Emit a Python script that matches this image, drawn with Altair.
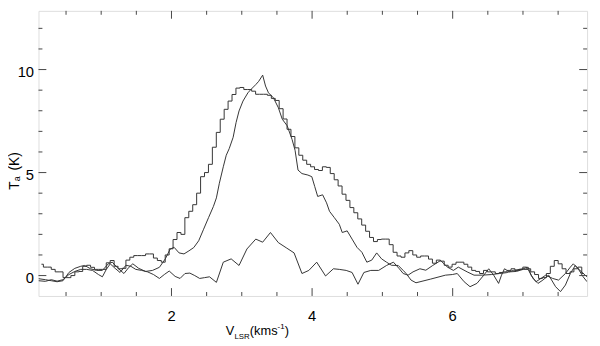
import altair as alt
import pandas as pd

# ---------------- data ----------------
# Stepped (histogram) spectrum: channel grid start / width and antenna temperatures
S_V0 = 0.150
S_DV = 0.0559
S_TA = [0.55, 0.41, 0.41, 0.3, 0.18, 0.18, -0.1, -0.1, 0.0, 0.18,
        0.2, 0.45, 0.5, 0.4, 0.3, 0.3, 0.3, 0.62, 0.73, 0.45,
        0.33, 0.35, 0.75, 0.89, 0.97, 0.97, 0.97, 1.05, 1.05, 0.85,
        0.73, 0.65, 1.0, 1.3, 1.75, 2.09, 2.0, 2.81, 3.12, 3.44,
        4.0, 4.8, 5.0, 5.4, 6.23, 6.95, 7.59, 8.07, 8.47, 8.79,
        9.1, 9.13, 9.03, 9.03, 8.95, 8.8, 8.8, 8.8, 8.75, 8.6,
        8.5, 8.1, 7.6, 7.1, 6.75, 6.2, 5.84, 5.6, 5.4, 5.28,
        5.15, 5.1, 5.28, 5.25, 4.95, 4.65, 4.35, 3.95, 3.65, 3.3,
        3.05, 2.75, 2.45, 2.15, 1.85, 1.65, 1.75, 1.77, 1.77, 1.5,
        1.13, 0.95, 0.89, 1.1, 1.21, 1.0, 0.89, 0.95, 0.95, 0.8,
        0.6, 0.75, 0.7, 0.5, 0.41, 0.55, 0.65, 0.65, 0.55, 0.41,
        0.25, 0.2, 0.1, 0.25, 0.18, 0.18, 0.1, 0.15, 0.18, 0.25,
        0.33, 0.25, 0.3, 0.41, 0.33, 0.18, 0.05, -0.14, -0.1, 0.1,
        0.45, 0.73, 0.57, 0.33, 0.1, 0.18, 0.33, 0.41, 0.1]

# Smooth spectrum (peak ~9.7 K)
M_V = [0.108, 0.206, 0.290, 0.373, 0.457, 0.541, 0.625, 0.709, 0.765, 0.849,
       0.933, 1.017, 1.101, 1.157, 1.241, 1.324, 1.394, 1.450, 1.534, 1.632,
       1.730, 1.828, 1.912, 1.982, 2.038, 2.108, 2.178, 2.248, 2.317, 2.387,
       2.457, 2.527, 2.597, 2.639, 2.681, 2.737, 2.779, 2.821, 2.877, 2.919,
       2.961, 3.017, 3.087, 3.129, 3.199, 3.241, 3.297, 3.338, 3.380, 3.450,
       3.520, 3.576, 3.646, 3.716, 3.758, 3.800, 3.856, 3.940, 3.996, 4.038,
       4.080, 4.150, 4.206, 4.248, 4.317, 4.387, 4.429, 4.499, 4.569, 4.639,
       4.709, 4.779, 4.849, 4.919, 4.989, 5.059, 5.129, 5.226, 5.296, 5.338,
       5.408, 5.478, 5.688, 5.897, 5.995, 6.065, 6.163, 6.247, 6.345, 6.443,
       6.513, 6.583, 6.653, 6.695, 6.737, 6.807, 6.905, 7.003, 7.073, 7.143,
       7.213, 7.283, 7.366, 7.464, 7.534, 7.604, 7.674, 7.744, 7.786, 7.856, 7.912]
M_TA = [-0.15, -0.2, -0.25, -0.3, -0.25, 0.15, 0.35, 0.45, 0.49, 0.33,
        0.25, 0.25, 0.57, 0.65, 0.35, 0.1, 0.4, 0.57, 0.35, 0.2,
        0.25, 0.4, 0.81, 1.29, 1.37, 1.1, 1.05, 1.2, 1.36, 1.69,
        2.25, 2.81, 3.36, 3.77, 4.48, 5.28, 5.84, 6.16, 6.71, 7.43,
        7.99, 8.47, 8.87, 9.03, 9.27, 9.43, 9.73, 9.2, 8.87, 8.63,
        8.15, 7.59, 7.27, 6.6, 6.08, 5.12, 4.95, 4.88, 4.8, 4.32,
        3.84, 3.92, 3.53, 3.12, 2.81, 2.49, 2.09, 2.17, 1.77, 1.37,
        1.13, 0.65, 0.75, 1.1, 0.81, 0.65, 0.5, 0.49, 0.25, 0.1,
        -0.22, -0.35, -0.17, 0.02, 0.05, 0.1, -0.3, -0.54, -0.38, 0.02,
        0.33, 0.02, -0.38, 0.02, 0.33, 0.18, 0.2, 0.3, 0.3, -0.14,
        -0.38, -0.22, 0.02, -0.54, -0.78, -0.46, 0.1, 0.49, 0.33, -0.06, -0.3]

# Weak spectrum (peak ~2.1 K)
L_V = [0.108, 0.206, 0.290, 0.373, 0.457, 0.541, 0.625, 0.709, 0.793, 0.877,
       0.961, 1.017, 1.073, 1.129, 1.198, 1.268, 1.352, 1.422, 1.492, 1.576,
       1.660, 1.744, 1.828, 1.898, 1.968, 2.052, 2.122, 2.192, 2.261, 2.331,
       2.401, 2.471, 2.541, 2.639, 2.737, 2.849, 2.961, 3.073, 3.199, 3.297,
       3.408, 3.520, 3.632, 3.744, 3.856, 3.954, 4.066, 4.192, 4.303, 4.387,
       4.485, 4.569, 4.653, 4.737, 4.835, 4.947, 5.059, 5.157, 5.241, 5.296,
       5.366, 5.436, 5.534, 5.618, 5.716, 5.828, 5.926, 6.010, 6.080, 6.206,
       6.304, 6.415, 6.555, 6.667, 6.765, 6.863, 7.003, 7.073, 7.115, 7.185,
       7.255, 7.324, 7.422, 7.506, 7.604, 7.674, 7.716, 7.786, 7.884, 7.912]
L_TA = [-0.25, -0.28, -0.2, -0.27, -0.2, 0.05, 0.2, 0.3, 0.3, 0.25,
        0.05, -0.06, 0.3, 0.57, 0.35, 0.15, 0.5, 0.45, 0.3, 0.25,
        0.18, 0.05, -0.14, 0.05, 0.22, -0.04, -0.14, 0.1, 0.12, 0.0,
        -0.14, -0.1, -0.06, -0.33, 0.65, 0.81, 0.49, 1.29, 1.77, 1.62,
        2.09, 1.6, 1.35, 1.1, 0.1, 0.25, 0.65, -0.02, 0.33, 0.3,
        0.25, 0.15, -0.42, 0.15, 0.25, 0.25, 0.49, 0.65, 0.33, 0.1,
        0.02, 0.18, 0.33, 0.26, 0.49, 0.73, 0.41, 0.25, 0.41, 0.18,
        0.02, 0.02, 0.05, 0.1, 0.14, 0.25, 0.33, 0.41, 0.02, -0.3,
        -0.14, 0.02, -0.14, -0.22, 0.1, 0.41, 0.57, 0.33, 0.02, -0.06]

# axis ticks
X_MAJOR = [2, 4, 6]
X_MINOR = [0.5, 1.0, 1.5, 2.5, 3.0, 3.5, 4.5, 5.0, 5.5, 6.5, 7.0, 7.5]
Y_MAJOR = [0, 5, 10]
Y_MINOR = [1, 2, 3, 4, 6, 7, 8, 9, 11, 12]

X_DOMAIN = [0.108, 7.912]
Y_DOMAIN = [-0.99, 12.85]

W, H = 558, 290
FONT = "Liberation Sans"
LINE = "#333333"
FRAME = "#444444"

# ---------------- build ----------------
s_df = pd.DataFrame({"v": [S_V0 + i * S_DV for i in range(len(S_TA))], "ta": S_TA})
m_df = pd.DataFrame({"v": M_V, "ta": M_TA})
l_df = pd.DataFrame({"v": L_V, "ta": L_TA})

xs = alt.Scale(domain=X_DOMAIN, nice=False, zero=False)
ys = alt.Scale(domain=Y_DOMAIN, nice=False, zero=False)


def spectrum(df, **kw):
    return alt.Chart(df).mark_line(color=LINE, strokeWidth=1, clip=True, **kw).encode(
        x=alt.X("v:Q", scale=xs, axis=None),
        y=alt.Y("ta:Q", scale=ys, axis=None),
    )


step = spectrum(s_df, interpolate="step")
smooth = spectrum(m_df)
weak = spectrum(l_df)

xmaj = pd.DataFrame({"v": X_MAJOR})
xmin = pd.DataFrame({"v": X_MINOR})
ymaj = pd.DataFrame({"t": Y_MAJOR})
ymin = pd.DataFrame({"t": Y_MINOR})


def xticks(df, y0, y1):
    return alt.Chart(df).mark_rule(color=FRAME, strokeWidth=1).encode(
        x=alt.X("v:Q", scale=xs, axis=None), y=alt.value(y0), y2=alt.value(y1))


def yticks(df, x0, x1):
    return alt.Chart(df).mark_rule(color=FRAME, strokeWidth=1).encode(
        y=alt.Y("t:Q", scale=ys, axis=None), x=alt.value(x0), x2=alt.value(x1))


ticks = [
    xticks(xmaj, H, H - 8), xticks(xmin, H, H - 4),
    xticks(xmaj, 0, 8), xticks(xmin, 0, 4),
    yticks(ymaj, 0, 8), yticks(ymin, 0, 4),
    yticks(ymaj, W, W - 8), yticks(ymin, W, W - 4),
]

# tick labels drawn as text marks positioned by the scales
xlabels = alt.Chart(xmaj).mark_text(font=FONT, fontSize=15, color="black", align="center",
                                    baseline="alphabetic").encode(
    x=alt.X("v:Q", scale=xs, axis=None), y=alt.value(315.5), text=alt.Text("v:Q", format="d"))
ylabels = alt.Chart(ymaj).mark_text(font=FONT, fontSize=15, color="black", align="right",
                                    baseline="alphabetic", dy=7.3).encode(
    y=alt.Y("t:Q", scale=ys, axis=None), x=alt.value(-4.5), text=alt.Text("t:Q", format="d"))


def label(txt, x, y, size=13, angle=0):
    return alt.Chart(pd.DataFrame({"a": [0]})).mark_text(
        text=txt, font=FONT, fontSize=size, color="black", align="left",
        baseline="alphabetic", angle=angle).encode(x=alt.value(x), y=alt.value(y))


titles = [
    label("V", 190.5, 330), label("LSR", 199.3, 333.5, size=8),
    label("(kms", 215, 330), label("-1", 243.2, 324, size=8), label(")", 250.5, 330),
    label("T", -20, 182, size=14, angle=270), label("a", -19, 173.4, size=9, angle=270),
    label("(K)", -20, 162.5, size=14, angle=270),
]

chart = alt.layer(step, smooth, weak, *ticks, xlabels, ylabels, *titles).properties(
    width=W, height=H,
    autosize=alt.AutoSizeParams(type="none"),
    padding={"left": 31, "top": 0, "right": 5, "bottom": 48},
).configure_view(stroke=FRAME, strokeWidth=1.2).configure(background="white")

chart.save("out.html", embed_options={"renderer": "svg", "actions": False})
